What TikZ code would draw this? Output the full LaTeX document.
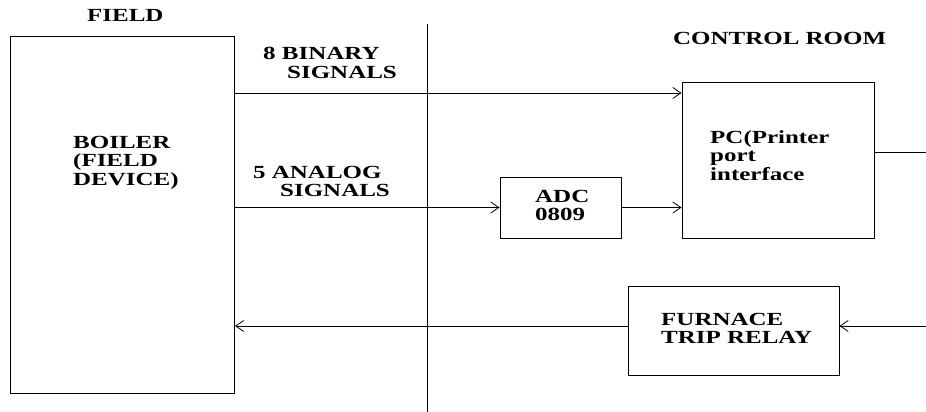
\documentclass[tikz,border=0pt]{standalone}
\usepackage{fontspec}
\setmainfont{Liberation Serif}[FakeStretch=1.35]
\usetikzlibrary{arrows.meta}
\tikzset{
  blk/.style={draw,line width=1pt,inner sep=0pt},
  txt/.style={inner sep=0pt,anchor=north west,align=left,
    font=\bfseries\fontsize{18.5}{18.5}\selectfont},
  sig/.style={line width=1pt,-{Straight Barb[length=8pt,width=11pt,line width=0.8pt]}},
  wire/.style={line width=1pt}
}
\begin{document}
\begin{tikzpicture}[x=1pt,y=-1pt]
\useasboundingbox (0,0) rectangle (926,412);
\node[blk,minimum width=224pt,minimum height=356pt] (boiler) at (122.5,215) {};
\node[blk,minimum width=192pt,minimum height=156pt] (pc) at (778,160) {};
\node[blk,minimum width=121pt,minimum height=61pt] (adc) at (560.5,207.5) {};
\node[blk,minimum width=211pt,minimum height=89pt] (relay) at (733.5,330.5) {};
\coordinate (divtop) at (427,24);
\coordinate (divbot) at (427,412);
\coordinate (bin) at (0,93);
\coordinate (out) at (926,152);
\coordinate (trip) at (926,326);
% labels
\node[txt] (field) at (87,9) {FIELD};
\node[txt] (room) at (673,32) {CONTROL ROOM};
\node[txt] (binary) at (263,47) {8 BINARY\\\hspace*{24pt}SIGNALS};
\node[txt] (analog) at (253,166) {5 ANALOG\\\hspace*{27pt}SIGNALS};
\node[txt] (boilertxt) at (73,136) {BOILER\\(FIELD\\DEVICE)};
\node[txt] (pctxt) at (710,130) {PC(Printer\\port\\interface};
\node[txt] (adctxt) at (535,190) {ADC\\0809};
\node[txt] (relaytxt) at (661,313) {FURNACE\\TRIP RELAY};
% connectors
\draw[wire] (divtop) -- (divbot);
\draw[sig] (boiler.east |- bin) -- (pc.west |- bin);
\draw[sig] (boiler.east |- adc.west) -- (adc.west);
\draw[sig] (adc.east) -- (pc.west |- adc.east);
\draw[wire] (pc.east |- out) -- (out);
\draw[sig] (trip) -- (relay.east |- trip);
\draw[sig] (relay.west |- trip) -- (boiler.east |- trip);
\end{tikzpicture}
\end{document}
